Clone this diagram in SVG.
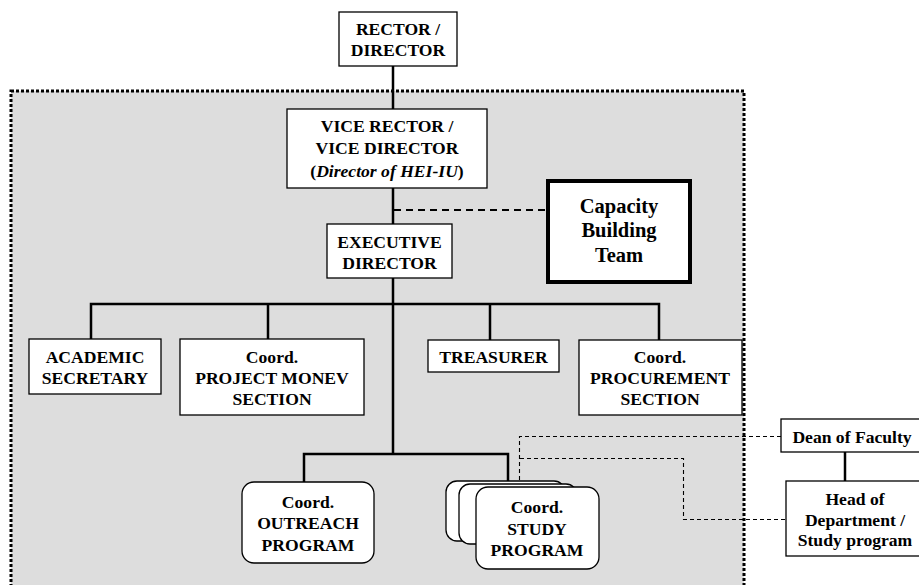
<svg xmlns="http://www.w3.org/2000/svg" width="919" height="585" viewBox="0 0 919 585">
<style>
.box{fill:#fff;stroke:#000;stroke-width:1.3}
.t{font-family:"Liberation Serif","Times New Roman",serif;font-weight:bold;font-size:17.6px;text-anchor:middle;fill:#000}
.big{font-size:20.5px}
.line{fill:none;stroke:#000;stroke-width:2.5}
.dash{fill:none;stroke:#000;stroke-width:2;stroke-dasharray:7 5}
.thin{fill:none;stroke:#000;stroke-width:1.1;stroke-dasharray:4 3}
</style>
<rect width="919" height="585" fill="#fff"/>
<g id="hei-iu-area">
<rect x="11" y="91" width="733" height="520" fill="#dddddd" stroke="#000" stroke-width="3" stroke-dasharray="3 2"/>
</g>
<g id="connectors">
<path class="line" d="M393 66V109M393 188V224M393 278V454"/>
<path class="line" d="M91 339V304H659V340M268 304V339M490 304V340"/>
<path class="line" d="M304 482V454H508V481"/>
<path class="line" d="M845 452V481"/>
<path class="dash" d="M394 210H548"/>
<path class="thin" d="M519.5 487V436.5H781"/>
<path class="thin" d="M520 458.5H683.5V519.5H786"/>
</g>
<g id="rector">
<rect class="box" x="339" y="12" width="118" height="54"/>
<text class="t" x="398" y="35">RECTOR /</text>
<text class="t" x="398" y="56">DIRECTOR</text>
</g>
<g id="vice-rector">
<rect class="box" x="287" y="109" width="200" height="79"/>
<text class="t" x="387" y="132">VICE RECTOR /</text>
<text class="t" x="387" y="154">VICE DIRECTOR</text>
<text class="t" x="387" y="177">(<tspan font-style="italic">Director of HEI-IU</tspan>)</text>
</g>
<g id="executive-director">
<rect class="box" x="327" y="224" width="125" height="54"/>
<text class="t" x="389.5" y="248">EXECUTIVE</text>
<text class="t" x="389.5" y="269">DIRECTOR</text>
</g>
<g id="capacity-building">
<rect x="548" y="181" width="142" height="101" fill="#fff" stroke="#000" stroke-width="4"/>
<text class="t big" x="619" y="213">Capacity</text>
<text class="t big" x="619" y="237">Building</text>
<text class="t big" x="619" y="262">Team</text>
</g>
<g id="academic-secretary">
<rect class="box" x="29" y="339" width="132" height="55"/>
<text class="t" x="95" y="363">ACADEMIC</text>
<text class="t" x="95" y="384">SECRETARY</text>
</g>
<g id="project-monev">
<rect class="box" x="180" y="339" width="184" height="76"/>
<text class="t" x="272" y="363">Coord.</text>
<text class="t" x="272" y="384">PROJECT MONEV</text>
<text class="t" x="272" y="405">SECTION</text>
</g>
<g id="treasurer">
<rect class="box" x="428" y="340" width="131" height="32"/>
<text class="t" x="493.5" y="363">TREASURER</text>
</g>
<g id="procurement">
<rect class="box" x="579" y="340" width="163" height="75"/>
<text class="t" x="660" y="363">Coord.</text>
<text class="t" x="660" y="384">PROCUREMENT</text>
<text class="t" x="660" y="405">SECTION</text>
</g>
<g id="outreach">
<rect class="box" x="242" y="482" width="132" height="81" rx="12"/>
<text class="t" x="308" y="508">Coord.</text>
<text class="t" x="308" y="529">OUTREACH</text>
<text class="t" x="308" y="551">PROGRAM</text>
</g>
<g id="study-program">
<rect class="box" x="446" y="481" width="119" height="60" rx="11"/>
<rect class="box" x="459" y="484" width="118" height="60" rx="11"/>
<rect class="box" x="476" y="487" width="123" height="82" rx="12"/>
<text class="t" x="537" y="513">Coord.</text>
<text class="t" x="537" y="535">STUDY</text>
<text class="t" x="537" y="556">PROGRAM</text>
</g>
<g id="dean">
<rect class="box" x="781" y="419" width="145" height="33"/>
<text class="t" x="852" y="443">Dean of Faculty</text>
</g>
<g id="head-of-department">
<rect class="box" x="786" y="481" width="140" height="75"/>
<text class="t" x="855" y="505">Head of</text>
<text class="t" x="855" y="526">Department /</text>
<text class="t" x="855" y="546">Study program</text>
</g>
</svg>
